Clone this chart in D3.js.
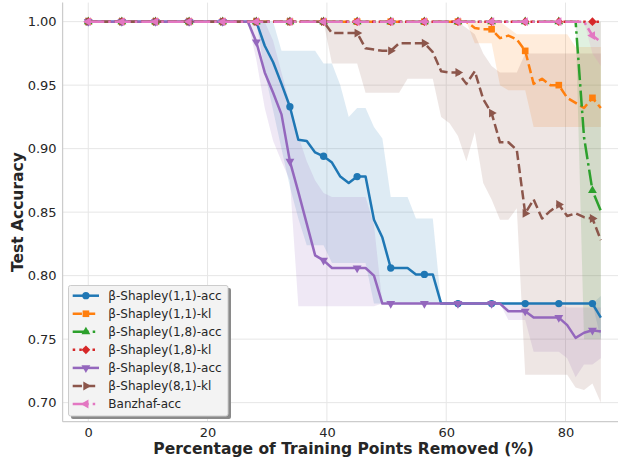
<!DOCTYPE html>
<html>
<head>
<meta charset="utf-8">
<script src="https://cdn.jsdelivr.net/npm/d3@7"></script>
<style>
body { margin: 0; background: #fff; }
svg { display: block; font-family: "DejaVu Sans", sans-serif; }
</style>
</head>
<body>
<div id="chart"></div>
<script>
// percentage of training points removed
var removed = [0, 1.41, 2.82, 4.23, 5.63, 7.04, 8.45, 9.86, 11.27, 12.68,
	14.08, 15.49, 16.9, 18.31, 19.72, 21.13, 22.54, 23.94, 25.35, 26.76,
	28.17, 29.58, 30.99, 32.39, 33.8, 35.21, 36.62, 38.03, 39.44, 40.85,
	42.25, 43.66, 45.07, 46.48, 47.89, 49.3, 50.7, 52.11, 53.52, 54.93,
	56.34, 57.75, 59.15, 60.56, 61.97, 63.38, 64.79, 66.2, 67.61, 69.01,
	70.42, 71.83, 73.24, 74.65, 76.06, 77.46, 78.87, 80.28, 81.69, 83.1,
	84.51, 85.92]

// β-Shapley(1,1)-acc
var shap11Acc = [1, 1, 1, 1, 1, 1, 1, 1, 1, 1,
	1, 1, 1, 1, 1, 1, 1, 1, 1, 1,
	1, 0.981, 0.968, 0.951, 0.933, 0.907, 0.906, 0.897, 0.894, 0.889,
	0.878, 0.873, 0.878, 0.878, 0.844, 0.830, 0.806, 0.806, 0.806, 0.801,
	0.801, 0.801, 0.778, 0.778, 0.778, 0.778, 0.778, 0.778, 0.778, 0.778,
	0.778, 0.778, 0.778, 0.778, 0.778, 0.778, 0.778, 0.778, 0.778, 0.778,
	0.778, 0.767]
var shap11AccHi = [1, 1, 1, 1, 1, 1, 1, 1, 1, 1,
	1, 1, 1, 1, 1, 1, 1, 1, 1, 1,
	1, 1, 1, 0.977, 0.977, 0.977, 0.977, 0.977, 0.967, 0.967,
	0.95, 0.925, 0.932, 0.932, 0.917, 0.908, 0.862, 0.862, 0.862, 0.845,
	0.845, 0.845, 0.778, 0.778, 0.778, 0.778, 0.778, 0.778, 0.778, 0.778,
	0.778, 0.778, 0.778, 0.778, 0.778, 0.778, 0.778, 0.778, 0.778, 0.778,
	0.778, 0.784]
var shap11AccLo = [1, 1, 1, 1, 1, 1, 1, 1, 1, 1,
	1, 1, 1, 1, 1, 1, 1, 1, 1, 1,
	1, 0.96, 0.93, 0.90, 0.87, 0.845, 0.824, 0.824, 0.824, 0.81,
	0.81, 0.81, 0.81, 0.81, 0.778, 0.778, 0.778, 0.778, 0.778, 0.778,
	0.778, 0.778, 0.778, 0.778, 0.778, 0.778, 0.778, 0.778, 0.778, 0.778,
	0.778, 0.778, 0.778, 0.778, 0.778, 0.778, 0.778, 0.778, 0.778, 0.778,
	0.778, 0.75]

// β-Shapley(1,1)-kl
var shap11Kl = [1, 1, 1, 1, 1, 1, 1, 1, 1, 1,
	1, 1, 1, 1, 1, 1, 1, 1, 1, 1,
	1, 1, 1, 1, 1, 1, 1, 1, 1, 1,
	1, 1, 1, 1, 1, 1, 1, 1, 1, 1,
	1, 1, 1, 1, 1, 1, 0.995, 0.994, 0.994, 0.987,
	0.989, 0.986, 0.977, 0.951, 0.955, 0.950, 0.950, 0.940, 0.936, 0.932,
	0.940, 0.932]
var shap11KlHi = [1, 1, 1, 1, 1, 1, 1, 1, 1, 1,
	1, 1, 1, 1, 1, 1, 1, 1, 1, 1,
	1, 1, 1, 1, 1, 1, 1, 1, 1, 1,
	1, 1, 1, 1, 1, 1, 1, 1, 1, 1,
	1, 1, 1, 1, 1, 1, 1, 1, 1, 1,
	0.995, 0.99, 0.99, 0.99, 0.99, 0.99, 0.99, 0.99, 0.98, 0.98,
	0.98, 0.98]
var shap11KlLo = [1, 1, 1, 1, 1, 1, 1, 1, 1, 1,
	1, 1, 1, 1, 1, 1, 1, 1, 1, 1,
	1, 1, 1, 1, 1, 1, 1, 1, 1, 1,
	1, 1, 1, 1, 1, 1, 1, 1, 1, 1,
	1, 1, 1, 1, 1, 1, 0.983, 0.983, 0.983, 0.95,
	0.946, 0.946, 0.946, 0.917, 0.917, 0.917, 0.917, 0.917, 0.917, 0.917,
	0.917, 0.917]

// β-Shapley(1,8)-acc
var shap18Acc = [1, 1, 1, 1, 1, 1, 1, 1, 1, 1,
	1, 1, 1, 1, 1, 1, 1, 1, 1, 1,
	1, 1, 1, 1, 1, 1, 1, 1, 1, 1,
	1, 1, 1, 1, 1, 1, 1, 1, 1, 1,
	1, 1, 1, 1, 1, 1, 1, 1, 1, 1,
	1, 1, 1, 1, 1, 1, 1, 1, 1, 0.909,
	0.867, 0.851]
var shap18AccHi = [1, 1, 1, 1, 1, 1, 1, 1, 1, 1,
	1, 1, 1, 1, 1, 1, 1, 1, 1, 1,
	1, 1, 1, 1, 1, 1, 1, 1, 1, 1,
	1, 1, 1, 1, 1, 1, 1, 1, 1, 1,
	1, 1, 1, 1, 1, 1, 1, 1, 1, 1,
	1, 1, 1, 1, 1, 1, 1, 1, 1, 1,
	1, 1]
var shap18AccLo = [1, 1, 1, 1, 1, 1, 1, 1, 1, 1,
	1, 1, 1, 1, 1, 1, 1, 1, 1, 1,
	1, 1, 1, 1, 1, 1, 1, 1, 1, 1,
	1, 1, 1, 1, 1, 1, 1, 1, 1, 1,
	1, 1, 1, 1, 1, 1, 1, 1, 1, 1,
	1, 1, 1, 1, 1, 1, 1, 1, 1, 0.75,
	0.75, 0.75]

// β-Shapley(1,8)-kl
var shap18Kl = [1, 1, 1, 1, 1, 1, 1, 1, 1, 1,
	1, 1, 1, 1, 1, 1, 1, 1, 1, 1,
	1, 1, 1, 1, 1, 1, 1, 1, 1, 1,
	1, 1, 1, 1, 1, 1, 1, 1, 1, 1,
	1, 1, 1, 1, 1, 1, 1, 1, 1, 1,
	1, 1, 1, 1, 1, 1, 1, 1, 1, 1,
	1, 1]

// β-Shapley(8,1)-acc
var shap81Acc = [1, 1, 1, 1, 1, 1, 1, 1, 1, 1,
	1, 1, 1, 1, 1, 1, 1, 1, 1, 1,
	0.984, 0.960, 0.944, 0.927, 0.890, 0.866, 0.841, 0.816, 0.812, 0.806,
	0.806, 0.806, 0.806, 0.806, 0.800, 0.778, 0.778, 0.778, 0.778, 0.778,
	0.778, 0.778, 0.778, 0.778, 0.778, 0.778, 0.778, 0.778, 0.778, 0.778,
	0.772, 0.772, 0.772, 0.767, 0.767, 0.767, 0.767, 0.761, 0.751, 0.755,
	0.757, 0.756]
var shap81AccHi = [1, 1, 1, 1, 1, 1, 1, 1, 1, 1,
	1, 1, 1, 1, 1, 1, 1, 1, 1, 1,
	1, 1, 0.985, 0.96, 0.935, 0.91, 0.89, 0.875, 0.865, 0.862,
	0.862, 0.862, 0.862, 0.862, 0.84, 0.778, 0.778, 0.778, 0.778, 0.778,
	0.778, 0.778, 0.778, 0.778, 0.778, 0.778, 0.778, 0.778, 0.778, 0.778,
	0.778, 0.778, 0.778, 0.778, 0.778, 0.778, 0.778, 0.775, 0.775, 0.775,
	0.775, 0.775]
var shap81AccLo = [1, 1, 1, 1, 1, 1, 1, 1, 1, 1,
	1, 1, 1, 1, 1, 1, 1, 1, 1, 1,
	0.97, 0.932, 0.906, 0.89, 0.875, 0.776, 0.776, 0.776, 0.776, 0.776,
	0.776, 0.776, 0.776, 0.776, 0.776, 0.778, 0.778, 0.778, 0.778, 0.778,
	0.778, 0.778, 0.778, 0.778, 0.778, 0.778, 0.778, 0.778, 0.778, 0.778,
	0.765, 0.765, 0.765, 0.74, 0.74, 0.74, 0.74, 0.735, 0.72, 0.73,
	0.73, 0.735]

// β-Shapley(8,1)-kl
var shap81Kl = [1, 1, 1, 1, 1, 1, 1, 1, 1, 1,
	1, 1, 1, 1, 1, 1, 1, 1, 1, 1,
	1, 1, 1, 1, 1, 1, 1, 1, 1, 0.991,
	0.991, 0.991, 0.991, 0.979, 0.978, 0.977, 0.977, 0.983, 0.983, 0.983,
	0.983, 0.976, 0.961, 0.960, 0.960, 0.951, 0.961, 0.939, 0.928, 0.905,
	0.905, 0.899, 0.849, 0.860, 0.845, 0.851, 0.856, 0.847, 0.849, 0.846,
	0.845, 0.828]
var shap81KlHi = [1, 1, 1, 1, 1, 1, 1, 1, 1, 1,
	1, 1, 1, 1, 1, 1, 1, 1, 1, 1,
	1, 1, 1, 1, 1, 1, 1, 1, 1, 1,
	1, 1, 1, 1, 1, 1, 1, 1, 1, 1,
	1, 1, 1, 1, 1, 0.995, 0.99, 0.975, 0.965, 0.96,
	0.96, 0.96, 0.975, 0.975, 0.975, 0.975, 0.975, 0.975, 0.975, 0.975,
	0.975, 0.975]
var shap81KlLo = [1, 1, 1, 1, 1, 1, 1, 1, 1, 1,
	1, 1, 1, 1, 1, 1, 1, 1, 1, 1,
	1, 1, 1, 1, 1, 1, 1, 1, 1, 0.967,
	0.967, 0.967, 0.967, 0.944, 0.944, 0.944, 0.944, 0.944, 0.955, 0.955,
	0.955, 0.955, 0.925, 0.92, 0.91, 0.89, 0.913, 0.873, 0.86, 0.844,
	0.844, 0.853, 0.722, 0.722, 0.722, 0.722, 0.722, 0.722, 0.712, 0.71,
	0.715, 0.70]

// Banzhaf-acc
var banzhafAcc = [1, 1, 1, 1, 1, 1, 1, 1, 1, 1,
	1, 1, 1, 1, 1, 1, 1, 1, 1, 1,
	1, 1, 1, 1, 1, 1, 1, 1, 1, 1,
	1, 1, 1, 1, 1, 1, 1, 1, 1, 1,
	1, 1, 1, 1, 1, 1, 1, 1, 1, 1,
	1, 1, 1, 1, 1, 1, 1, 1, 1, 1,
	0.989, 0.984]
var banzhafAccHi = [1, 1, 1, 1, 1, 1, 1, 1, 1, 1,
	1, 1, 1, 1, 1, 1, 1, 1, 1, 1,
	1, 1, 1, 1, 1, 1, 1, 1, 1, 1,
	1, 1, 1, 1, 1, 1, 1, 1, 1, 1,
	1, 1, 1, 1, 1, 1, 1, 1, 1, 1,
	1, 1, 1, 1, 1, 1, 1, 1, 1, 1,
	1, 1]
var banzhafAccLo = [1, 1, 1, 1, 1, 1, 1, 1, 1, 1,
	1, 1, 1, 1, 1, 1, 1, 1, 1, 1,
	1, 1, 1, 1, 1, 1, 1, 1, 1, 1,
	1, 1, 1, 1, 1, 1, 1, 1, 1, 1,
	1, 1, 1, 1, 1, 1, 1, 1, 1, 1,
	1, 1, 1, 1, 1, 1, 1, 1, 1, 1,
	0.975, 0.965]

var seriesNames = ["β-Shapley(1,1)-acc", "β-Shapley(1,1)-kl", "β-Shapley(1,8)-acc", "β-Shapley(1,8)-kl",
	"β-Shapley(8,1)-acc", "β-Shapley(8,1)-kl", "Banzhaf-acc"]
var xTicks = [0, 20, 40, 60, 80]
var yTicks = [0.70, 0.75, 0.80, 0.85, 0.90, 0.95, 1.00]

var series = [
	{name: seriesNames[0], y: shap11Acc, lo: shap11AccLo, hi: shap11AccHi, color: "#1f77b4", dash: null, sym: d3.symbolCircle, size: 42, rot: 0},
	{name: seriesNames[1], y: shap11Kl, lo: shap11KlLo, hi: shap11KlHi, color: "#ff7f0e", dash: "9.25,4", sym: d3.symbolSquare, size: 44, rot: 0},
	{name: seriesNames[2], y: shap18Acc, lo: shap18AccLo, hi: shap18AccHi, color: "#2ca02c", dash: "16,4,2.5,4", sym: d3.symbolTriangle, size: 34, rot: 0},
	{name: seriesNames[3], y: shap18Kl, lo: null, hi: null, color: "#d62728", dash: "2.5,4.1", sym: d3.symbolSquare, size: 38, rot: 45},
	{name: seriesNames[4], y: shap81Acc, lo: shap81AccLo, hi: shap81AccHi, color: "#9467bd", dash: null, sym: d3.symbolTriangle, size: 34, rot: 180},
	{name: seriesNames[5], y: shap81Kl, lo: shap81KlLo, hi: shap81KlHi, color: "#8c564b", dash: "9.25,4", sym: d3.symbolTriangle, size: 34, rot: 90},
	{name: seriesNames[6], y: banzhafAcc, lo: banzhafAccLo, hi: banzhafAccHi, color: "#e377c2", dash: "16,4,2.5,4", sym: d3.symbolTriangle, size: 34, rot: -90}
]

var W = 618, H = 458
var plotLeft = 62.6, plotRight = 624.6, plotTop = 2.6, plotBottom = 421.7

const x = d3.scaleLinear()
	.domain([-4.3, 89.9])
	.range([plotLeft, plotRight])
const y = d3.scaleLinear()
	.domain([0.685, 1.015])
	.range([plotBottom, plotTop])

const svg = d3.select("#chart")
	.append("svg")
		.attr("width", W)
		.attr("height", H)

// grid
svg.append("g")
	.selectAll("line")
	.data(xTicks)
	.join("line")
		.attr("x1", d => x(d)).attr("x2", d => x(d))
		.attr("y1", plotTop).attr("y2", plotBottom)
		.attr("stroke", "#e6e6e6")
		.attr("stroke-width", 1)
svg.append("g")
	.selectAll("line")
	.data(yTicks)
	.join("line")
		.attr("x1", plotLeft).attr("x2", plotRight)
		.attr("y1", d => y(d)).attr("y2", d => y(d))
		.attr("stroke", "#e6e6e6")
		.attr("stroke-width", 1)

// x axis
const xAxis = svg.append("g")
	.attr("transform", `translate(0,${plotBottom})`)
	.call(d3.axisBottom(x).tickValues(xTicks).tickSize(0).tickPadding(6).tickFormat(d3.format("d")))
xAxis.select(".domain").remove()
xAxis.selectAll("text")
	.attr("font-family", "DejaVu Sans")
	.attr("font-size", "13px")
	.attr("fill", "#262626")

// y axis
const yAxis = svg.append("g")
	.attr("transform", `translate(${plotLeft},0)`)
	.call(d3.axisLeft(y).tickValues(yTicks).tickSize(0).tickPadding(6).tickFormat(d3.format(".2f")))
yAxis.select(".domain").remove()
yAxis.selectAll("text")
	.attr("font-family", "DejaVu Sans")
	.attr("font-size", "13px")
	.attr("fill", "#262626")

// spines
svg.append("line")
	.attr("x1", plotLeft).attr("x2", plotLeft)
	.attr("y1", plotTop).attr("y2", plotBottom)
	.attr("stroke", "#cccccc").attr("stroke-width", 1.25)
svg.append("line")
	.attr("x1", plotLeft).attr("x2", plotRight)
	.attr("y1", plotBottom).attr("y2", plotBottom)
	.attr("stroke", "#cccccc").attr("stroke-width", 1.25)

// bands
const plot = svg.append("g")
for (let s of series) {
	if (!s.lo) continue
	const area = d3.area()
		.x((d, i) => x(removed[i]))
		.y0((d, i) => y(s.lo[i]))
		.y1((d, i) => y(s.hi[i]))
	plot.append("path")
		.datum(s.y)
		.attr("fill", s.color)
		.attr("fill-opacity", 0.15)
		.attr("d", area)
}

const line = d3.line()
	.x((d, i) => x(removed[i]))
	.y(d => y(d))

// lines + markers (every 4th point)
for (let s of series) {
	plot.append("path")
		.datum(s.y)
		.attr("fill", "none")
		.attr("stroke", s.color)
		.attr("stroke-width", 2.5)
		.attr("stroke-linejoin", "round")
		.attr("stroke-dasharray", s.dash)
		.attr("d", line)
	const sym = d3.symbol().type(s.sym).size(s.size)
	plot.append("g")
		.selectAll("path")
		.data(s.y.map((v, i) => [removed[i], v]).filter((d, i) => i % 4 == 0))
		.join("path")
			.attr("d", sym)
			.attr("transform", d => `translate(${x(d[0])},${y(d[1])}) rotate(${s.rot})`)
			.attr("fill", s.color)
}

// labels
svg.append("text")
	.attr("x", (plotLeft + plotRight) / 2)
	.attr("y", 454)
	.attr("text-anchor", "middle")
	.attr("font-size", "15.5px")
	.attr("font-weight", "bold")
	.attr("fill", "#262626")
	.text("Percentage of Training Points Removed (%)")
svg.append("text")
	.attr("transform", `translate(22.5,${(plotTop + plotBottom) / 2}) rotate(-90)`)
	.attr("text-anchor", "middle")
	.attr("font-size", "15.5px")
	.attr("font-weight", "bold")
	.attr("fill", "#262626")
	.text("Test Accuracy")

// legend
const legend = svg.append("g")
legend.append("rect")
	.attr("x", 71).attr("y", 288)
	.attr("width", 160).attr("height", 131)
	.attr("rx", 2)
	.attr("fill", "#8a8a8a")
legend.append("rect")
	.attr("x", 68.5).attr("y", 285.5)
	.attr("width", 159.5).attr("height", 130.5)
	.attr("rx", 2)
	.attr("fill", "#f3f3f3")
	.attr("stroke", "#cccccc")
	.attr("stroke-width", 1)
series.forEach(function(s, i) {
	let cy = 295.7 + i * 18.05
	legend.append("line")
		.attr("x1", 72.7).attr("x2", 99)
		.attr("y1", cy).attr("y2", cy)
		.attr("stroke", s.color)
		.attr("stroke-width", 2.5)
		.attr("stroke-dasharray", s.dash)
	legend.append("path")
		.attr("d", d3.symbol().type(s.sym).size(s.size))
		.attr("transform", `translate(85.9,${cy}) rotate(${s.rot})`)
		.attr("fill", s.color)
	legend.append("text")
		.attr("x", 108.3)
		.attr("y", cy + 4.4)
		.attr("font-size", "12px")
		.attr("fill", "#262626")
		.text(s.name)
})
</script>
</body>
</html>
